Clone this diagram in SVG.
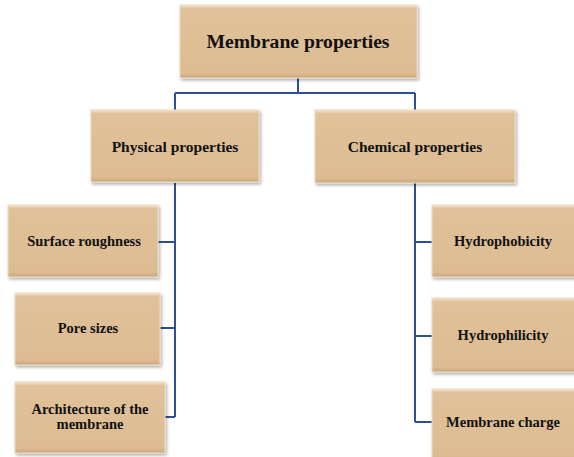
<svg xmlns="http://www.w3.org/2000/svg" width="574" height="457" viewBox="0 0 574 457">
  <defs>
    <linearGradient id="bevel" x1="0" y1="0" x2="0" y2="1">
      <stop offset="0" stop-color="#f6e6cf"/>
      <stop offset="0.05" stop-color="#e0c199"/>
      <stop offset="0.93" stop-color="#ddbc92"/>
      <stop offset="1" stop-color="#c7a780"/>
    </linearGradient>
    <filter id="shadow" x="-10%" y="-10%" width="125%" height="130%">
      <feDropShadow dx="1.5" dy="2" stdDeviation="1.5" flood-color="#000" flood-opacity="0.3"/>
    </filter>
  </defs>
  <style>
    .box { fill: url(#bevel); stroke: #ecd9bd; stroke-width: 1; filter: url(#shadow); }
    .lbl { font-family: "Liberation Serif", "Times New Roman", serif; font-weight: bold; fill: #111; text-anchor: middle; }
    .t1 { font-size: 19.6px; }
    .t2 { font-size: 15.5px; }
    .t3 { font-size: 14.5px; }
    .wire { fill: none; stroke: #2e4f96; stroke-width: 2; }
  </style>
  <rect width="574" height="457" fill="#fff"/>

  <g id="connectors">
    <path class="wire" d="M298 78 V93 M175 93 H415 M175 93 V110 M415 93 V110"/>
    <path class="wire" d="M175 183 V417 M158 242 H175 M160 328 H175 M165 417 H175"/>
    <path class="wire" d="M415 183 V422 M415 242 H432 M415 336 H432 M415 422 H432"/>
  </g>

  <g id="membrane-properties">
    <rect class="box" x="180" y="5" width="237" height="73"/>
    <text class="lbl t1" x="298" y="48">Membrane properties</text>
  </g>

  <g id="physical-properties">
    <rect class="box" x="91" y="110" width="168" height="72"/>
    <text class="lbl t2" x="175" y="152">Physical properties</text>
  </g>

  <g id="chemical-properties">
    <rect class="box" x="315" y="110" width="200" height="73"/>
    <text class="lbl t2" x="415" y="152">Chemical properties</text>
  </g>

  <g id="surface-roughness">
    <rect class="box" x="8" y="205" width="150" height="72"/>
    <text class="lbl t3" x="84" y="246">Surface roughness</text>
  </g>

  <g id="pore-sizes">
    <rect class="box" x="15" y="293" width="145" height="72"/>
    <text class="lbl t3" x="88" y="333">Pore sizes</text>
  </g>

  <g id="architecture">
    <rect class="box" x="15" y="382" width="150" height="71"/>
    <text class="lbl t3" x="90" y="414">Architecture of the</text>
    <text class="lbl t3" x="90" y="429">membrane</text>
  </g>

  <g id="hydrophobicity">
    <rect class="box" x="432" y="205" width="145" height="72"/>
    <text class="lbl t3" x="503" y="246">Hydrophobicity</text>
  </g>

  <g id="hydrophilicity">
    <rect class="box" x="432" y="298" width="145" height="74"/>
    <text class="lbl t3" x="503" y="340">Hydrophilicity</text>
  </g>

  <g id="membrane-charge">
    <rect class="box" x="432" y="389" width="145" height="72"/>
    <text class="lbl t3" x="503" y="427">Membrane charge</text>
  </g>
</svg>
